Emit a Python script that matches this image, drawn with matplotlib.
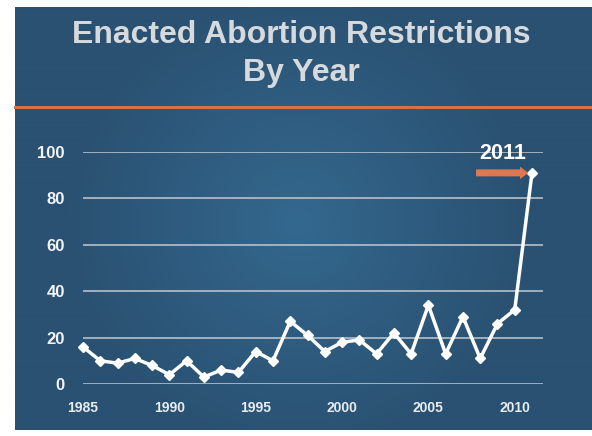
import numpy as np
import matplotlib
matplotlib.use("Agg")
import matplotlib.pyplot as plt
from matplotlib.colors import to_rgb

years = list(range(1985, 2012))
restrictions = [16, 10, 9, 11, 8, 4, 10, 3, 6, 5, 14, 10, 27, 21, 14, 18, 19, 13, 22, 13, 34, 13, 29, 11, 26, 32, 91]
xtick_years = [1985, 1990, 1995, 2000, 2005, 2010]
ytick_vals = [0, 20, 40, 60, 80, 100]
title_line1 = "Enacted Abortion Restrictions"
title_line2 = "By Year"
callout_text = "2011"

W, H = 592, 436
fig = plt.figure(figsize=(W / 100, H / 100), dpi=100)
fig.patch.set_facecolor("white")

# slide background with radial gradient
sx0, sx1, sy0, sy1 = 15, 592, 7, 430
bg = fig.add_axes([sx0 / W, 1 - sy1 / H, (sx1 - sx0) / W, (sy1 - sy0) / H])
bg.set_axis_off()
nx, ny = sx1 - sx0, sy1 - sy0
xx, yy = np.meshgrid(np.arange(nx) + sx0, np.arange(ny) + sy0)
cx, cy = 298, 222
r = np.sqrt((xx - cx) ** 2 + (yy - cy) ** 2)
t = np.clip(r / 230.0, 0, 1) ** 0.9
c_in = np.array(to_rgb("#34698f"))
c_out = np.array(to_rgb("#2a5172"))
img = c_in[None, None, :] * (1 - t[..., None]) + c_out[None, None, :] * t[..., None]
bg.imshow(img, aspect="auto", extent=(0, 1, 0, 1), origin="upper")
bg.set_xlim(0, 1)
bg.set_ylim(0, 1)

# orange divider
fig.add_artist(plt.Line2D([sx0 / W, 1], [1 - 107 / H, 1 - 107 / H], color="#d8714b", lw=2.2,
                          transform=fig.transFigure))

# title
tkw = dict(ha="center", va="center", color="#d6dadd", fontsize=23, fontweight="bold",
           family="Liberation Sans")
fig.text(301 / W, 1 - 35 / H, title_line1, **tkw)
fig.text(301 / W, 1 - 73 / H, title_line2, **tkw)

# plot axes
left, right = 83, 543
bottom, top = 384, 152
ax = fig.add_axes([left / W, 1 - bottom / H, (right - left) / W, (bottom - top) / H])
ax.patch.set_alpha(0)
x_end = 2011 + (543 - 532) / 17.28
ax.set_xlim(1985, x_end)
ax.set_ylim(0, 100)
for v in ytick_vals:
    ax.axhline(v, color="#b6c0ca", lw=1.2, zorder=1)
ax.plot(years, restrictions, color="white", lw=2.5, marker="D", markersize=5,
        markerfacecolor="white", markeredgecolor="white", clip_on=False, zorder=3)
for s in ax.spines.values():
    s.set_visible(False)
ax.set_xticks(xtick_years)
ax.set_xticklabels([str(y) for y in xtick_years])
ax.set_yticks(ytick_vals)
ax.set_yticklabels([str(v) for v in ytick_vals])
ax.tick_params(length=0)
ax.tick_params(axis="x", pad=12, labelsize=10, labelcolor="#e8ecef")
ax.tick_params(axis="y", pad=13, labelsize=12, labelcolor="#f2f4f6")
for lbl in ax.get_xticklabels() + ax.get_yticklabels():
    lbl.set_fontweight("bold")
    lbl.set_family("Liberation Sans")

# callout arrow and label
ax.annotate("", xy=(2010.95, 91), xytext=(2007.6, 91),
            arrowprops=dict(arrowstyle="simple,head_length=0.6,head_width=0.9,tail_width=0.5",
                            color="#df7850", lw=0), annotation_clip=False)
ax.text(2009.3, 99.5, callout_text, ha="center", va="center", color="white",
        fontsize=15.5, fontweight="bold", family="Liberation Sans", clip_on=False)

fig.savefig("out.png", dpi=100, facecolor="white")
